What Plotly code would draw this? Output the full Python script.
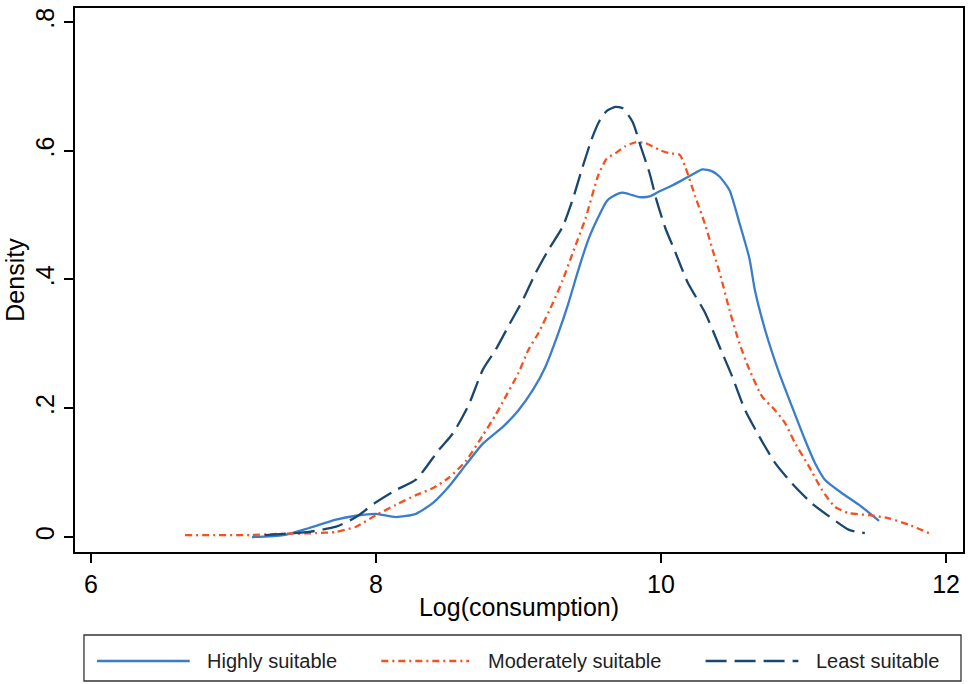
import plotly.graph_objects as go

# Data (kernel density estimates)
high_x = [7.13, 7.35, 7.53, 7.72, 7.86, 8.00, 8.14, 8.28, 8.40, 8.51, 8.63, 8.75, 8.89, 9.00, 9.10,
          9.19, 9.28, 9.35, 9.42, 9.49, 9.56, 9.62, 9.66, 9.73, 9.80, 9.85, 9.92, 9.99, 10.06, 10.13,
          10.22, 10.29, 10.36, 10.41, 10.48, 10.55, 10.62, 10.66, 10.73, 10.83, 10.92, 11.01, 11.08,
          11.15, 11.27, 11.39, 11.53]
high_y = [0.000, 0.003, 0.014, 0.027, 0.033, 0.036, 0.031, 0.036, 0.053, 0.078, 0.112, 0.145, 0.171,
          0.197, 0.228, 0.265, 0.317, 0.363, 0.415, 0.462, 0.497, 0.522, 0.529, 0.535, 0.531, 0.528,
          0.529, 0.537, 0.544, 0.552, 0.563, 0.571, 0.568, 0.560, 0.539, 0.488, 0.433, 0.382, 0.322,
          0.254, 0.202, 0.151, 0.115, 0.089, 0.068, 0.050, 0.025]

mod_x = [6.66, 7.11, 7.35, 7.58, 7.72, 7.86, 8.00, 8.14, 8.28, 8.40, 8.51, 8.63, 8.75, 8.84, 8.89,
         9.00, 9.07, 9.14, 9.24, 9.31, 9.38, 9.47, 9.56, 9.62, 9.68, 9.75, 9.82, 9.89, 9.99, 10.06,
         10.13, 10.17, 10.24, 10.31, 10.37, 10.41, 10.48, 10.55, 10.62, 10.71, 10.80, 10.87, 10.94,
         11.04, 11.13, 11.22, 11.32, 11.46, 11.60, 11.74, 11.88]
mod_y = [0.003, 0.003, 0.005, 0.006, 0.008, 0.016, 0.034, 0.050, 0.065, 0.076, 0.092, 0.118, 0.158,
         0.190, 0.210, 0.255, 0.291, 0.317, 0.363, 0.399, 0.441, 0.495, 0.562, 0.588, 0.596, 0.607,
         0.613, 0.612, 0.601, 0.596, 0.594, 0.575, 0.529, 0.485, 0.440, 0.412, 0.353, 0.301, 0.260,
         0.218, 0.197, 0.177, 0.146, 0.109, 0.073, 0.047, 0.037, 0.034, 0.029, 0.019, 0.006]

least_x = [7.22, 7.35, 7.53, 7.72, 7.86, 8.00, 8.14, 8.28, 8.44, 8.54, 8.65, 8.75, 8.84, 8.94, 9.03,
           9.12, 9.21, 9.31, 9.38, 9.45, 9.52, 9.57, 9.62, 9.68, 9.73, 9.80, 9.86, 9.92, 9.97, 10.03,
           10.09, 10.19, 10.31, 10.41, 10.50, 10.59, 10.69, 10.80, 10.92, 11.06, 11.18, 11.32, 11.43]
least_y = [0.003, 0.005, 0.008, 0.016, 0.031, 0.054, 0.073, 0.089, 0.135, 0.161, 0.205, 0.260, 0.291,
           0.332, 0.368, 0.410, 0.446, 0.482, 0.524, 0.575, 0.622, 0.647, 0.662, 0.668, 0.666, 0.645,
           0.605, 0.565, 0.522, 0.480, 0.448, 0.394, 0.348, 0.296, 0.249, 0.197, 0.156, 0.115, 0.083,
           0.052, 0.032, 0.011, 0.006]

series_names = ["Highly suitable", "Moderately suitable", "Least suitable"]
x_ticks = [6, 8, 10, 12]
y_ticks = [0, 0.2, 0.4, 0.6, 0.8]
y_tick_text = ["0", ".2", ".4", ".6", ".8"]

colors = ["#3a7dcc", "#f4511e", "#1a476f"]
dashes = ["solid", "7px,4px,2px,4px", "21px,8px"]

fig = go.Figure()
for name, xs, ys, c, d in zip(series_names, [high_x, mod_x, least_x], [high_y, mod_y, least_y], colors, dashes):
    fig.add_trace(go.Scatter(x=xs, y=ys, mode="lines", name=name, showlegend=False,
                             line=dict(color=c, width=2.3, dash=d, shape="spline", smoothing=0.6)))

FONT = "Liberation Sans, Arial, sans-serif"

fig.update_layout(
    width=969, height=684,
    margin=dict(l=75, r=4, t=8, b=132),
    paper_bgcolor="white", plot_bgcolor="white",
    font=dict(family=FONT, color="black"),
    xaxis=dict(range=[5.888, 12.119], tickvals=x_ticks, ticks="outside", ticklen=9, tickwidth=1.5,
               tickcolor="black", showgrid=False, zeroline=False, showline=True, linecolor="black",
               linewidth=1.5, mirror=True, tickfont=dict(size=25, family=FONT),
               title=dict(text="Log(consumption)", font=dict(size=25, family=FONT), standoff=2)),
    yaxis=dict(range=[-0.0233, 0.8217], tickvals=y_ticks, ticktext=y_tick_text, tickangle=-90,
               ticks="outside", ticklen=9, tickwidth=1.5, tickcolor="black", showgrid=False,
               zeroline=False, showline=True, linecolor="black", linewidth=1.5, mirror=True,
               tickfont=dict(size=25, family=FONT),
               title=dict(text="Density", font=dict(size=25, family=FONT), standoff=0)),
)

# Manual legend (Stata style) below the plot
def px_x(px):
    return (px - 75) / 890.0

def px_y(py):
    return (552 - py) / 544.0

fig.add_shape(type="rect", xref="paper", yref="paper",
              x0=px_x(84), x1=px_x(963), y0=px_y(635), y1=px_y(681),
              line=dict(color="#333333", width=1.3), fillcolor="white")

legend_lines = [(97, 190, 205), (382, 470, 487), (707, 800, 816)]
for (lx0, lx1, tx), name, c, d in zip(legend_lines, series_names, colors, dashes):
    fig.add_shape(type="line", xref="paper", yref="paper",
                  x0=px_x(lx0), x1=px_x(lx1), y0=px_y(661), y1=px_y(661),
                  line=dict(color=c, width=2.3, dash=d))
    fig.add_annotation(text=name, xref="paper", yref="paper", x=px_x(tx), y=px_y(661),
                       xanchor="left", yanchor="middle", showarrow=False,
                       font=dict(size=20, family=FONT, color="#222222"))

fig.write_html("out.html", config={"displayModeBar": False},
               post_script="document.body.style.margin='0px';")
